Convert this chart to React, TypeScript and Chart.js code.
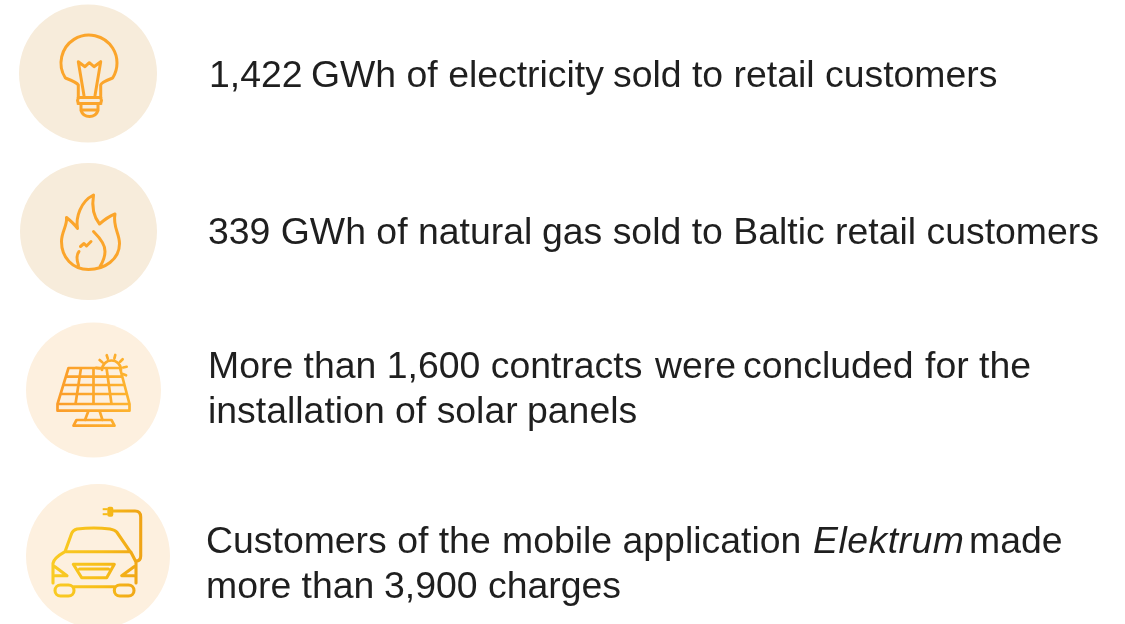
import React, { useEffect, useRef } from "react";
import { Chart, registerables } from "chart.js";
Chart.register(...registerables);

const circleX = [88, 88.5, 93.5, 98];
const circleY = [73.5, 231.5, 390, 556];
const circleR = [69, 68.5, 67.5, 72];
const circleColors = ["#f7ecdb", "#f7ecdb", "#fdf0df", "#fdf0df"];

type Seg = { text: string; x: number; y: number; italic?: boolean };
const textSegments: Seg[] = [
  { text: "1,422", x: 209, y: 87 },
  { text: "GWh of electricity", x: 311, y: 87 },
  { text: "sold to retail customers", x: 613, y: 87 },
  { text: "339 GWh of natural", x: 208, y: 244 },
  { text: "gas sold to Baltic retail customers", x: 542, y: 244 },
  { text: "More than 1,600 contracts", x: 208, y: 378 },
  { text: "were", x: 655, y: 378 },
  { text: "concluded", x: 743, y: 378 },
  { text: "for the", x: 925, y: 378 },
  { text: "installation of solar", x: 208, y: 423 },
  { text: "panels", x: 527, y: 423 },
  { text: "Customers of the", x: 206, y: 553 },
  { text: "mobile application", x: 502, y: 553 },
  { text: "Elektrum", x: 813, y: 553, italic: true },
  { text: "made", x: 969, y: 553 },
  { text: "more than", x: 206, y: 598 },
  { text: "3,900 charges", x: 384, y: 598 },
];

const drawBulb = (c: CanvasRenderingContext2D) => {
  c.beginPath();
  c.moveTo(-9.7, 25);
  c.lineTo(-9.7, 11.5);
  c.quadraticCurveTo(-11, 9, -22.6, 4.5);
  c.arc(1, -10.5, 28, Math.PI * 0.82, Math.PI * 2.18);
  c.quadraticCurveTo(13, 9, 12.7, 11.5);
  c.lineTo(12.7, 25);
  c.moveTo(-10, 24); c.lineTo(13, 24);
  c.moveTo(-10, 30); c.lineTo(13, 30);
  c.moveTo(-7, 36.5); c.lineTo(10, 36.5);
  c.moveTo(-9, 24); c.quadraticCurveTo(-12, 27, -9, 30);
  c.moveTo(12, 24); c.quadraticCurveTo(15, 27, 12, 30);
  c.moveTo(-7, 30); c.lineTo(-7, 37);
  c.quadraticCurveTo(-5, 43, 1.5, 43);
  c.quadraticCurveTo(8, 43, 10, 37);
  c.lineTo(10, 30);
  c.moveTo(-4, 22); c.lineTo(-9.7, -11.8); c.lineTo(-3, -6.8); c.lineTo(1.3, -10.8); c.lineTo(6, -6.8); c.lineTo(12.7, -11.8); c.lineTo(7, 22);
  c.stroke();
};
const drawFlame = (c: CanvasRenderingContext2D) => {
  c.beginPath();
  c.moveTo(-22, -14);
  c.bezierCurveTo(-17, -10, -13, -6, -11, -3);
  c.bezierCurveTo(-13, -14, -8, -30, 5, -36.5);
  c.bezierCurveTo(3, -24, 5, -15, 11, -7.5);
  c.bezierCurveTo(15, -11, 20, -15, 26.5, -17.5);
  c.bezierCurveTo(24, -5, 31, 2, 31, 12);
  c.bezierCurveTo(31, 28, 16, 38, 0, 38);
  c.bezierCurveTo(-16, 38, -27, 26, -27, 10);
  c.bezierCurveTo(-27, 0, -21, -6, -22, -14);
  c.moveTo(-10, 34);
  c.bezierCurveTo(-12, 28, -12, 23, -9.5, 20);
  c.moveTo(5, 0);
  c.bezierCurveTo(12, 7, 17, 14, 16.5, 20);
  c.bezierCurveTo(16.5, 26, 14, 31, 11.5, 35);
  c.moveTo(-8, 15); c.lineTo(-4.5, 12); c.lineTo(-2, 14.5); c.lineTo(2.5, 10);
  c.stroke();
};
const drawSolar = (c: CanvasRenderingContext2D) => {
  const g = c.createLinearGradient(-36, 0, 36, 0);
  g.addColorStop(0, "#fb9d2a"); g.addColorStop(1, "#fdb32e");
  c.strokeStyle = g;
  c.beginPath();
  c.moveTo(-25, -22); c.lineTo(26.5, -22); c.lineTo(36, 14); c.lineTo(36, 20.7); c.lineTo(-36, 20.7); c.lineTo(-36, 14); c.closePath();
  c.moveTo(-36, 14); c.lineTo(36, 14);
  c.moveTo(-27.5, -13.3); c.lineTo(28.5, -13.3);
  c.moveTo(-29.5, -5); c.lineTo(31, -5);
  c.moveTo(-32, 4); c.lineTo(33, 4);
  c.moveTo(-12.5, -22); c.lineTo(-18, 14);
  c.moveTo(0, -22); c.lineTo(0, 14);
  c.moveTo(13, -22); c.lineTo(18, 14);
  c.moveTo(-5, 20.7); c.lineTo(-8.5, 30);
  c.moveTo(6, 20.7); c.lineTo(9, 30);
  c.moveTo(-20, 35.7); c.lineTo(21, 35.7); c.lineTo(18, 30); c.lineTo(-17, 30); c.closePath();
  c.stroke();
  c.beginPath();
  c.arc(18, -20, 9.5, Math.PI * 1.0, Math.PI * 2.0);
  for (let a = -172; a <= 50; a += 32) {
    const t = (a * Math.PI) / 180;
    c.moveTo(18 + 12 * Math.cos(t), -20 + 12 * Math.sin(t));
    c.lineTo(18 + 15.5 * Math.cos(t), -20 + 15.5 * Math.sin(t));
  }
  c.stroke();
};
const drawCar = (c: CanvasRenderingContext2D) => {
  const g = c.createLinearGradient(-45, 0, 45, 0);
  g.addColorStop(0, "#f9cb24"); g.addColorStop(0.55, "#f7bd18"); g.addColorStop(1, "#efa316");
  c.strokeStyle = g;
  c.beginPath();
  c.moveTo(-33, -4.3);
  c.lineTo(-26.3, -22.7);
  c.quadraticCurveTo(-25, -26, -21, -27);
  c.quadraticCurveTo(-4, -29, 12, -27);
  c.quadraticCurveTo(17, -26, 18.7, -24);
  c.lineTo(32.7, -3.7);
  c.moveTo(-33, -4.3);
  c.lineTo(32.7, -4.3);
  c.lineTo(38, 6);
  c.lineTo(38, 27);
  c.moveTo(-45, 27);
  c.lineTo(-45, 7.3);
  c.quadraticCurveTo(-44, 2, -33, -4.3);
  c.moveTo(-24, 30.7); c.lineTo(16.3, 30.7);
  c.moveTo(-43, 10.7); c.lineTo(-31, 19.7); c.lineTo(-43, 19.7);
  c.moveTo(36, 10.7); c.lineTo(23.7, 19.7); c.lineTo(36, 19.7);
  c.moveTo(-24.7, 8.3); c.lineTo(16.3, 8.3); c.lineTo(8.7, 21.7); c.lineTo(-16.3, 21.7); c.closePath();
  c.moveTo(-18.5, 13); c.lineTo(10.5, 13);
  c.stroke();
  c.beginPath();
  c.roundRect(-43, 29, 19, 11, 5.5);
  c.roundRect(16.3, 29, 19.7, 11, 5.5);
  c.stroke();
  c.beginPath();
  c.moveTo(38, 5);
  c.quadraticCurveTo(42.7, 5, 42.7, 0);
  c.lineTo(42.7, -39);
  c.quadraticCurveTo(42.7, -45, 37, -45);
  c.lineTo(15.3, -45);
  c.stroke();
  c.fillStyle = g;
  c.beginPath();
  c.roundRect(9.3, -49.3, 6, 10, 2);
  c.fill();
  c.fillRect(4.7, -47.8, 5, 2);
  c.fillRect(4.7, -42.8, 5, 2);
};

const iconPlugin = {
  id: "infographicIcons",
  afterDatasetsDraw(chart: any) {
    const { ctx, scales } = chart;
    const at = (i: number, draw: (c: CanvasRenderingContext2D) => void, w: number) => {
      ctx.save();
      ctx.translate(scales.x.getPixelForValue(circleX[i]), scales.y.getPixelForValue(circleY[i]));
      ctx.strokeStyle = "#fba52b";
      ctx.lineWidth = w;
      ctx.lineJoin = "round";
      ctx.lineCap = "round";
      draw(ctx);
      ctx.restore();
    };
    at(0, drawBulb, 3);
    at(1, drawFlame, 3);
    at(2, drawSolar, 2.7);
    at(3, drawCar, 3.1);
    ctx.save();
    ctx.fillStyle = "#1f1f1f";
    ctx.textBaseline = "alphabetic";
    ctx.textAlign = "left";
    for (const s of textSegments) {
      ctx.font = `${s.italic ? "italic " : ""}37.4px "Liberation Sans", Arial, sans-serif`;
      (ctx as any).letterSpacing = s.italic ? "0.5px" : "0px";
      ctx.fillText(s.text, scales.x.getPixelForValue(s.x), scales.y.getPixelForValue(s.y));
    }
    ctx.restore();
  },
};

export default function App() {
  const ref = useRef<HTMLCanvasElement>(null);
  useEffect(() => {
    const chart = new Chart(ref.current!, {
      type: "bubble",
      data: {
        datasets: [
          {
            data: circleX.map((x, i) => ({ x, y: circleY[i], r: circleR[i] })),
            backgroundColor: circleColors,
            borderWidth: 0,
            hoverRadius: 0,
            clip: false,
          } as any,
        ],
      },
      options: {
        animation: false,
        responsive: false,
        layout: { padding: 0, autoPadding: false },
        plugins: { legend: { display: false }, tooltip: { enabled: false } },
        scales: {
          x: { type: "linear", min: 0, max: 1125, display: false },
          y: { type: "linear", min: 0, max: 624, reverse: true, display: false },
        },
      },
      plugins: [iconPlugin],
    });
    return () => chart.destroy();
  }, []);
  return (
    <canvas
      ref={ref}
      width={1125}
      height={624}
      style={{ position: "fixed", left: 0, top: 0, width: 1125, height: 624, background: "#fff" }}
    />
  );
}
